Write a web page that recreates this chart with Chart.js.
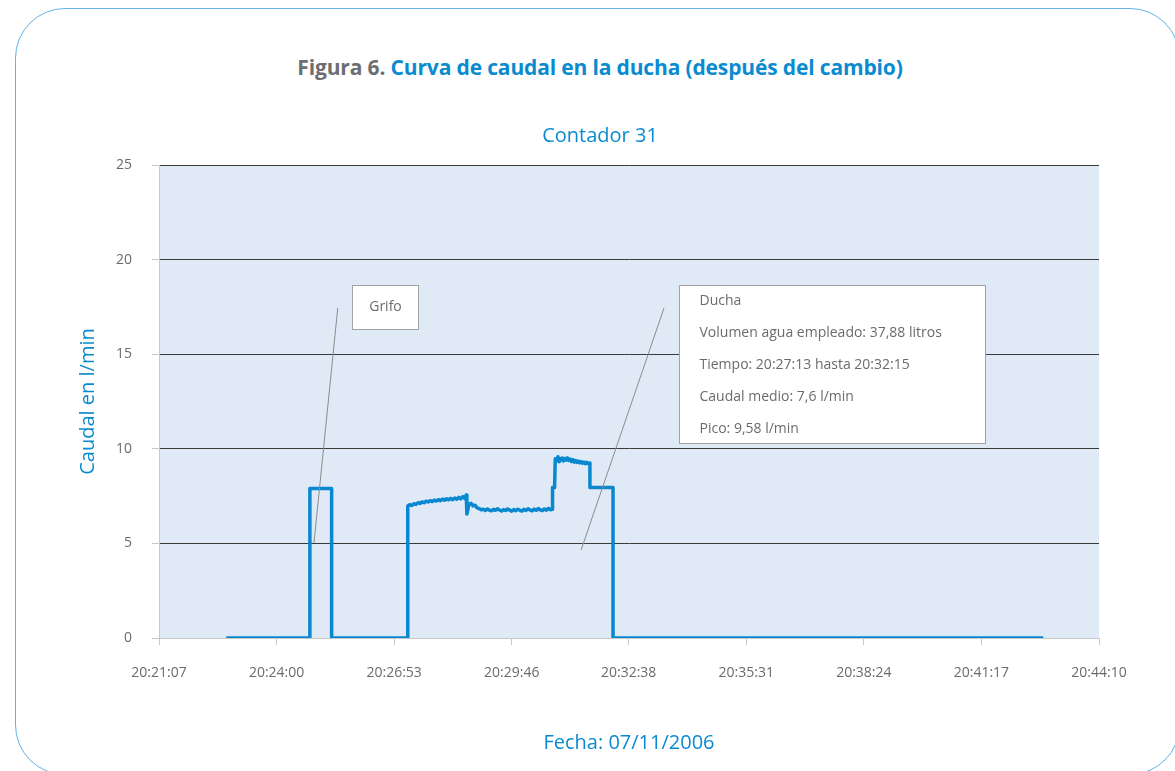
<!DOCTYPE html>
<html>
<head>
<meta charset="utf-8">
<script src="https://cdn.jsdelivr.net/npm/chart.js@4/dist/chart.umd.min.js"></script>
<style>
  html, body { margin: 0; padding: 0; background: #fff; }
  body { width: 1175px; height: 771px; position: relative; overflow: hidden; font-family: 'Open Sans', sans-serif; }
  .frame {
    position: absolute; left: 15px; top: 8px; width: 1165px; height: 767px;
    box-sizing: border-box; border: 1px solid #62b2e4; border-radius: 50px;
  }
  .heading {
    position: absolute; left: 0; top: 55px; width: 1200px; text-align: center;
    font-size: 21px; line-height: 24px; font-weight: 700; letter-spacing: -0.15px;
  }
  .heading .num { color: #6d6e71; }
  .heading .txt { color: #0a8bd0; }
  .chart-box { position: absolute; left: 0; top: 0; width: 1175px; height: 771px; }
</style>
</head>
<body>
<div class="frame"></div>
<div class="heading"><span class="num">Figura 6.</span> <span class="txt">Curva de caudal en la ducha (después del cambio)</span></div>
<div class="chart-box"><canvas id="flowChart"></canvas></div>

<script>
// eje X: marcas de hora
const tickLabels = ['20:21:07', '20:24:00', '20:26:53', '20:29:46', '20:32:38', '20:35:31', '20:38:24', '20:41:17', '20:44:10']
const yTicks = [0, 5, 10, 15, 20, 25]

// lecturas del contador 31 (hora, caudal l/min)
const flowTimes = [
  '20:22:46', '20:24:49', '20:24:49', '20:25:21', '20:25:21', '20:27:13', '20:27:13',
  '20:27:16', '20:27:19', '20:27:22', '20:27:25', '20:27:28', '20:27:31', '20:27:34', '20:27:37',
  '20:27:40', '20:27:43', '20:27:46', '20:27:49', '20:27:52', '20:27:55', '20:27:58', '20:28:01',
  '20:28:04', '20:28:07', '20:28:10', '20:28:13', '20:28:16', '20:28:19', '20:28:22', '20:28:25',
  '20:28:28', '20:28:31', '20:28:34', '20:28:37', '20:28:39', '20:28:40', '20:28:43', '20:28:46',
  '20:28:49', '20:28:52', '20:28:55', '20:28:58', '20:29:01', '20:29:04', '20:29:07', '20:29:10',
  '20:29:13', '20:29:16', '20:29:19', '20:29:22', '20:29:25', '20:29:28', '20:29:31', '20:29:34',
  '20:29:37', '20:29:40', '20:29:43', '20:29:46', '20:29:49', '20:29:52', '20:29:55', '20:29:58',
  '20:30:01', '20:30:04', '20:30:07', '20:30:10', '20:30:13', '20:30:16', '20:30:19', '20:30:22',
  '20:30:25', '20:30:28', '20:30:31', '20:30:34', '20:30:37', '20:30:40', '20:30:43', '20:30:46',
  '20:30:46', '20:30:49', '20:30:50', '20:30:52', '20:30:54', '20:30:56', '20:30:58', '20:31:00',
  '20:31:02', '20:31:04', '20:31:06', '20:31:08', '20:31:10', '20:31:12', '20:31:14', '20:31:16',
  '20:31:18', '20:31:20', '20:31:22', '20:31:24', '20:31:26', '20:31:28', '20:31:30', '20:31:32',
  '20:31:34', '20:31:36', '20:31:38', '20:31:41', '20:31:41', '20:32:15', '20:32:15', '20:42:48'
]
const flowValues = [
  0, 0, 7.9, 7.9, 0, 0, 6.98,
  7.05, 7.00, 7.10, 7.06, 7.15, 7.11, 7.19, 7.15,
  7.23, 7.19, 7.26, 7.21, 7.29, 7.24, 7.31, 7.26,
  7.34, 7.28, 7.36, 7.30, 7.38, 7.31, 7.40, 7.33,
  7.43, 7.35, 7.47, 7.38, 7.56, 6.55, 7.08, 7.12,
  6.98, 7.02, 6.88, 6.84, 6.78, 6.80, 6.74, 6.82,
  6.76, 6.72, 6.80, 6.75, 6.83, 6.77, 6.71, 6.79,
  6.74, 6.82, 6.76, 6.70, 6.79, 6.73, 6.81, 6.75,
  6.71, 6.80, 6.74, 6.83, 6.76, 6.72, 6.81, 6.75,
  6.84, 6.77, 6.73, 6.82, 6.76, 6.85, 6.78, 6.80,
  7.95, 7.95, 9.48, 9.36, 9.58, 9.32, 9.47, 9.51,
  9.36, 9.49, 9.40, 9.52, 9.38, 9.45, 9.33, 9.43,
  9.30, 9.38, 9.28, 9.35, 9.26, 9.32, 9.24, 9.30,
  9.22, 9.28, 9.22, 9.25, 7.95, 7.95, 0, 0
]

// notas sobre el grafico
const grifoLines = ['Grifo']
const duchaLines = [
  'Ducha',
  'Volumen agua empleado: 37,88 litros',
  'Tiempo: 20:27:13 hasta 20:32:15',
  'Caudal medio: 7,6 l/min',
  'Pico: 9,58 l/min'
]

const BLUE = '#0a8bd0'
const LINE_BLUE = '#0a88cf'
const GREY_TEXT = '#6b6b6b'
const FONT = "'Open Sans', sans-serif"

function toSec(t) {
    const [h, m, s] = t.split(':').map(Number)
    return h * 3600 + m * 60 + s
}

const points = flowTimes.map((t, i) => ({ x: toSec(t), y: flowValues[i] }))

const notes = [
    { lines: grifoLines, box: ['20:25:51', 18.66], size: [66, 44], from: ['20:25:30', 17.44], to: ['20:24:55', 5.02], center: true },
    { lines: duchaLines, box: ['20:33:52', 18.66], size: [306, 158], from: ['20:33:30', 17.44], to: ['20:31:28', 4.65], center: false }
]

// fondo azul claro del area de trazado
const plotBg = {
    id: 'plotBg',
    beforeDraw(chart) {
        const { ctx, chartArea: a } = chart
        ctx.save()
        ctx.fillStyle = '#dfeaf6'
        ctx.fillRect(a.left, a.top, a.right - a.left, a.bottom - a.top)
        ctx.restore()
    }
}

// cuadros de texto con su linea guia
const callouts = {
    id: 'callouts',
    afterDatasetsDraw(chart) {
        const { ctx, scales: { x, y } } = chart
        ctx.save()
        notes.forEach(n => {
            ctx.strokeStyle = '#8c8c8c'
            ctx.lineWidth = 1
            ctx.beginPath()
            ctx.moveTo(x.getPixelForValue(toSec(n.from[0])), y.getPixelForValue(n.from[1]))
            ctx.lineTo(x.getPixelForValue(toSec(n.to[0])), y.getPixelForValue(n.to[1]))
            ctx.stroke()

            const bx = Math.round(x.getPixelForValue(toSec(n.box[0]))) + 0.5
            const by = Math.round(y.getPixelForValue(n.box[1])) + 0.5
            const [w, h] = n.size
            ctx.fillStyle = '#fff'
            ctx.fillRect(bx, by, w, h)
            ctx.strokeStyle = '#a3a3a3'
            ctx.strokeRect(bx, by, w, h)

            ctx.fillStyle = GREY_TEXT
            ctx.font = `14px ${FONT}`
            ctx.textBaseline = 'middle'
            if (n.center) {
                ctx.textAlign = 'center'
                ctx.fillText(n.lines[0], bx + w / 2, by + h / 2)
            } else {
                ctx.textAlign = 'left'
                n.lines.forEach((l, i) => ctx.fillText(l, bx + 20, by + 16 + i * 32))
            }
        })
        ctx.restore()
    }
}

const ctx = document.getElementById('flowChart').getContext('2d')
const flowChart = new Chart(ctx, {
    type: 'line',
    data: {
        datasets: [{
            label: 'Contador 31',
            data: points,
            borderColor: LINE_BLUE,
            borderWidth: 3.5,
            borderJoinStyle: 'round',
            pointRadius: 0,
            tension: 0,
            fill: false
        }]
    },
    options: {
        responsive: true,
        maintainAspectRatio: false,
        animation: false,
        layout: { padding: { left: 101, right: 76, top: 0, bottom: 0 } },
        plugins: {
            legend: { display: false },
            tooltip: { enabled: false },
            title: {
                display: true,
                text: 'Contador 31',
                color: BLUE,
                font: { family: FONT, size: 20, weight: 'normal' },
                padding: { top: 124, bottom: 17 }
            }
        },
        scales: {
            x: {
                type: 'linear',
                min: toSec(tickLabels[0]),
                max: toSec(tickLabels[tickLabels.length - 1]),
                afterBuildTicks: s => { s.ticks = tickLabels.map(t => ({ value: toSec(t) })) },
                afterFit: s => { s.height = 133 },
                ticks: {
                    autoSkip: false,
                    maxRotation: 0,
                    padding: 20,
                    color: GREY_TEXT,
                    font: { family: FONT, size: 14 },
                    callback: (v, i) => tickLabels[i]
                },
                grid: { drawOnChartArea: false, drawTicks: true, tickLength: 7, tickColor: '#c8c8c8' },
                border: { color: '#c8c8c8' },
                title: {
                    display: true,
                    text: 'Fecha: 07/11/2006',
                    color: BLUE,
                    font: { family: FONT, size: 20 },
                    padding: { bottom: 16 }
                }
            },
            y: {
                min: 0,
                max: 25,
                afterBuildTicks: s => { s.ticks = yTicks.map(v => ({ value: v })) },
                afterFit: s => { s.width = 58 },
                ticks: {
                    padding: 20,
                    color: GREY_TEXT,
                    font: { family: FONT, size: 14 }
                },
                grid: {
                    color: c => (c.tick && c.tick.value === 0) ? '#c8c8c8' : '#3a3a3a',
                    tickColor: '#c8c8c8',
                    tickLength: 7
                },
                border: { color: '#c8c8c8' },
                title: {
                    display: true,
                    text: 'Caudal en l/min',
                    color: BLUE,
                    font: { family: FONT, size: 20 },
                    padding: { top: -25 }
                }
            }
        }
    },
    plugins: [plotBg, callouts]
})
</script>
</body>
</html>
